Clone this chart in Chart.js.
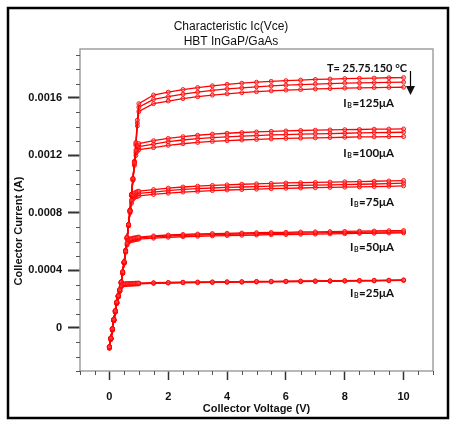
<!DOCTYPE html>
<html>
<head>
<meta charset="utf-8">
<script src="https://cdn.jsdelivr.net/npm/chart.js@4"></script>
<style>
  html, body { margin: 0; padding: 0; background: #fff; }
  #wrap { position: relative; width: 451px; height: 421px; }
</style>
</head>
<body>
<div id="wrap"><canvas id="ivChart" width="451" height="421"></canvas></div>
<script>
// Collector voltage sweep (V)
const vce = [0, 0.05, 0.1, 0.15, 0.2, 0.25, 0.3, 0.35, 0.4, 0.45, 0.5, 0.55, 0.6, 0.65, 0.7, 0.75, 0.8, 0.85, 0.9, 0.95, 1.0,
             1.5, 2, 2.5, 3, 3.5, 4, 4.5, 5, 5.5, 6, 6.5, 7, 7.5, 8, 8.5, 9, 9.5, 10];

// Collector current in µA (T = 25 / 75 / 150 °C)
const ib25_t25  = [-130,-70,-5,60,120,180,225,265,292,303,306,307,308,308,309,309,310,310,311,311,312, 314,316,318,319,320,321,322,323,324,325,326,327,328,329,330,331,332,334];
const ib25_t75  = [-135,-75,-10,55,115,175,220,260,288,300,303,304,305,306,306,307,307,308,308,309,309, 312,314,316,317,318,319,320,321,322,323,324,325,326,327,328,329,330,332];
const ib25_t150 = [-140,-80,-15,50,110,170,215,255,283,297,300,301,302,303,303,304,304,305,305,306,306, 310,312,314,315,316,317,318,319,320,321,322,323,324,325,326,327,328,330];

const ib50_t25  = [-130,-70,-5,60,120,180,225,265,320,390,460,535,590,612,618,621,624,626,628,630,632, 640,646,650,653,656,658,660,662,664,665,667,668,670,671,673,674,676,677];
const ib50_t75  = [-135,-75,-10,55,115,175,220,260,315,385,455,530,583,606,612,615,618,620,622,624,626, 633,639,643,646,649,651,653,655,656,658,659,661,662,663,665,666,667,668];
const ib50_t150 = [-140,-80,-15,50,110,170,215,255,310,380,450,525,576,598,604,607,610,612,614,616,618, 624,630,634,637,640,642,644,646,648,649,651,652,654,655,657,658,660,661];

const ib75_t25  = [-130,-70,-5,60,120,180,225,265,320,390,460,540,630,720,815,890,925,938,944,948,951, 962,972,980,986,991,995,999,1002,1005,1008,1010,1012,1014,1016,1018,1020,1022,1025];
const ib75_t75  = [-135,-75,-10,55,115,175,220,260,315,385,455,535,625,715,808,878,910,922,928,932,935, 945,955,963,968,973,977,980,983,986,989,991,993,995,997,999,1001,1004,1007];
const ib75_t150 = [-140,-80,-15,50,110,170,215,255,310,380,450,530,620,710,800,866,895,906,912,915,918, 928,937,945,950,955,959,962,965,968,971,973,975,977,979,981,983,985,988];

const ib100_t25  = [-130,-70,-5,60,120,180,225,265,320,390,460,540,630,720,820,930,1040,1150,1235,1268,1282, 1302,1318,1330,1340,1348,1354,1359,1363,1367,1370,1373,1375,1377,1379,1380,1382,1383,1384];
const ib100_t75  = [-135,-75,-10,55,115,175,220,260,315,385,455,535,625,715,815,925,1033,1140,1218,1248,1261, 1279,1295,1307,1316,1323,1329,1334,1338,1342,1345,1348,1350,1352,1354,1356,1358,1359,1361];
const ib100_t150 = [-140,-80,-15,50,110,170,215,255,310,380,450,530,620,710,810,920,1026,1130,1200,1228,1240, 1254,1270,1281,1290,1297,1302,1307,1311,1315,1318,1320,1322,1324,1326,1328,1329,1330,1331];

const ib125_t25  = [-130,-70,-5,60,120,180,225,265,320,390,460,540,630,720,820,930,1040,1160,1290,1445,1560, 1620,1640,1658,1672,1684,1694,1702,1709,1715,1720,1724,1728,1731,1734,1736,1738,1740,1741];
const ib125_t75  = [-135,-75,-10,55,115,175,220,260,315,385,455,535,625,715,815,925,1035,1155,1280,1425,1535, 1590,1608,1626,1640,1652,1662,1670,1677,1683,1688,1692,1696,1699,1702,1704,1706,1708,1709];
const ib125_t150 = [-140,-80,-15,50,110,170,215,255,310,380,450,530,620,710,810,920,1030,1150,1270,1405,1505, 1560,1578,1595,1608,1619,1628,1636,1643,1649,1654,1658,1662,1665,1668,1670,1672,1673,1674];

// Curve labels (base current, µA)
const ibLabels = ['125', '100', '75', '50', '25'];
const tempLabel = 'T= 25.75.150 °C';
const titleLines = ['Characteristic Ic(Vce)', 'HBT InGaP/GaAs'];

// Axis ticks
const xTicks = [-1, -0.5, 0, 0.5, 1, 1.5, 2, 2.5, 3, 3.5, 4, 4.5, 5, 5.5, 6, 6.5, 7, 7.5, 8, 8.5, 9, 9.5, 10, 10.5, 11];
const xMajorTicks = [0, 2, 4, 6, 8, 10];
const xTickLabels = ['0', '2', '4', '6', '8', '10'];
const yTicks = [-0.0003, -0.0002, -0.0001, 0, 0.0001, 0.0002, 0.0003, 0.0004, 0.0005, 0.0006, 0.0007, 0.0008,
                0.0009, 0.001, 0.0011, 0.0012, 0.0013, 0.0014, 0.0015, 0.0016, 0.0017, 0.0018, 0.0019];
const yMajorTicks = [0, 0.0004, 0.0008, 0.0012, 0.0016];
const yTickLabels = ['0', '0.0004', '0.0008', '0.0012', '0.0016'];

const allCurves = [ib25_t25, ib25_t75, ib25_t150, ib50_t25, ib50_t75, ib50_t150, ib75_t25, ib75_t75, ib75_t150,
                   ib100_t25, ib100_t75, ib100_t150, ib125_t25, ib125_t75, ib125_t150];

function majorIndex(v, list) {
    return list.findIndex(m => Math.abs(m - v) < 1e-9);
}

// µA -> A for the chart
const datasets = allCurves.map(curve => ({
    data: vce.map((v, i) => ({ x: v, y: curve[i] / 1e6 })),
    borderColor: '#ff0000',
    borderWidth: 1.3,
    pointRadius: 2,
    pointBorderWidth: 1,
    pointBorderColor: 'rgba(255, 0, 0, 0.85)',
    pointBackgroundColor: 'rgba(255, 110, 110, 0.45)',
    tension: 0
}));

const FONT = 'Liberation Sans, Arial, sans-serif';
const LABEL_FONT = 'Lato, Open Sans, sans-serif';

// frame, minor ticks, titles and the curve notes
const extras = {
    id: 'extras',
    afterDraw(chart) {
        const ctx = chart.ctx;
        const a = chart.chartArea;
        const xs = chart.scales.x;
        const ys = chart.scales.y;
        ctx.save();

        ctx.strokeStyle = '#a0a0a0';
        ctx.lineWidth = 1.5;
        ctx.strokeRect(a.left, a.top, a.right - a.left, a.bottom - a.top);

        // short minor ticks
        ctx.strokeStyle = '#555';
        ctx.lineWidth = 1;
        ctx.beginPath();
        xs.ticks.forEach(t => {
            if (majorIndex(t.value, xMajorTicks) < 0) {
                const px = Math.round(xs.getPixelForValue(t.value)) + 0.5;
                ctx.moveTo(px, a.bottom);
                ctx.lineTo(px, a.bottom + 4);
            }
        });
        ys.ticks.forEach(t => {
            if (majorIndex(t.value, yMajorTicks) < 0) {
                const py = Math.round(ys.getPixelForValue(t.value)) + 0.5;
                ctx.moveTo(a.left, py);
                ctx.lineTo(a.left - 4, py);
            }
        });
        ctx.stroke();

        // chart title
        ctx.fillStyle = '#111';
        ctx.font = '12px ' + FONT;
        ctx.textAlign = 'center';
        ctx.textBaseline = 'middle';
        ctx.fillText(titleLines[0], 231, 27);
        ctx.fillText(titleLines[1], 231, 42);

        // y axis title
        ctx.font = 'bold 11px ' + FONT;
        ctx.translate(19, 231);
        ctx.rotate(-Math.PI / 2);
        ctx.fillText('Collector Current (A)', 0, 0);
        ctx.setTransform(1, 0, 0, 1, 0, 0);

        // temperature note + arrow
        ctx.font = 'bold 11px ' + LABEL_FONT;
        ctx.textAlign = 'right';
        ctx.fillText(tempLabel, 407, 68);
        ctx.strokeStyle = '#000';
        ctx.lineWidth = 1.2;
        ctx.beginPath();
        ctx.moveTo(410.5, 71);
        ctx.lineTo(410.5, 88);
        ctx.stroke();
        ctx.beginPath();
        ctx.moveTo(406, 86);
        ctx.lineTo(415, 86);
        ctx.lineTo(410.5, 95);
        ctx.closePath();
        ctx.fill();

        // I_B labels
        const labelY = [103, 153, 202, 247, 293];
        ibLabels.forEach((lab, i) => {
            const rest = '=' + lab + 'μA';
            ctx.font = 'bold 11.5px ' + LABEL_FONT;
            const wI = ctx.measureText('I').width;
            const wRest = ctx.measureText(rest).width;
            ctx.font = 'bold 7px ' + LABEL_FONT;
            const wB = ctx.measureText('B').width;
            let x = 394 - (wI + wB + wRest + 1);
            ctx.textAlign = 'left';
            ctx.font = 'bold 11.5px ' + LABEL_FONT;
            ctx.fillText('I', x, labelY[i]);
            x += wI + 0.5;
            ctx.font = 'bold 7px ' + LABEL_FONT;
            ctx.fillText('B', x, labelY[i] + 3);
            x += wB + 0.5;
            ctx.font = 'bold 11.5px ' + LABEL_FONT;
            ctx.fillText(rest, x, labelY[i]);
        });

        // outer black frame
        ctx.strokeStyle = '#000';
        ctx.lineWidth = 2.5;
        ctx.strokeRect(8, 8, 440, 410);
        ctx.restore();
    }
};

new Chart(document.getElementById('ivChart'), {
    type: 'line',
    data: { datasets: datasets },
    plugins: [extras],
    options: {
        responsive: false,
        animation: false,
        layout: { padding: { left: 10, right: 18, top: 49, bottom: 0 } },
        plugins: {
            legend: { display: false },
            tooltip: { enabled: false },
            title: { display: false }
        },
        scales: {
            x: {
                type: 'linear',
                min: -1,
                max: 11,
                afterBuildTicks: scale => { scale.ticks = xTicks.map(v => ({ value: v })); },
                afterFit: scale => { scale.height = 50; },
                border: { display: false },
                grid: {
                    drawOnChartArea: false,
                    drawTicks: true,
                    tickLength: 9,
                    tickWidth: 1.5,
                    tickColor: c => majorIndex(c.tick.value, xMajorTicks) >= 0 ? '#333' : 'rgba(0,0,0,0)'
                },
                ticks: {
                    autoSkip: false,
                    maxRotation: 0,
                    padding: 10,
                    color: '#111',
                    font: { family: FONT, size: 11, weight: 'bold' },
                    callback: v => {
                        const k = majorIndex(v, xMajorTicks);
                        return k >= 0 ? xTickLabels[k] : '';
                    }
                },
                title: {
                    display: true,
                    text: 'Collector Voltage (V)',
                    color: '#111',
                    font: { family: FONT, size: 11, weight: 'bold' },
                    padding: { top: 0, bottom: 5 }
                }
            },
            y: {
                type: 'linear',
                min: -0.0003,
                max: 0.00194,
                afterBuildTicks: scale => { scale.ticks = yTicks.map(v => ({ value: v })); },
                afterFit: scale => { scale.width = 70; },
                border: { display: false },
                grid: {
                    drawOnChartArea: false,
                    drawTicks: true,
                    tickLength: 12,
                    tickWidth: 2,
                    tickColor: c => majorIndex(c.tick.value, yMajorTicks) >= 0 ? '#333' : 'rgba(0,0,0,0)'
                },
                ticks: {
                    autoSkip: false,
                    padding: 6,
                    color: '#111',
                    font: { family: FONT, size: 11, weight: 'bold' },
                    callback: v => {
                        const k = majorIndex(v, yMajorTicks);
                        return k >= 0 ? yTickLabels[k] : '';
                    }
                }
            }
        }
    }
});
</script>
</body>
</html>
